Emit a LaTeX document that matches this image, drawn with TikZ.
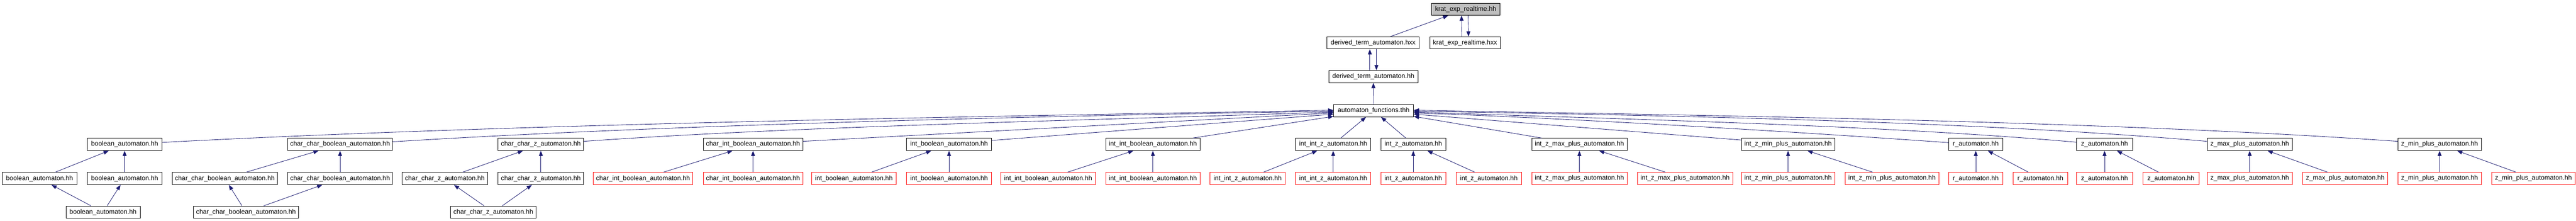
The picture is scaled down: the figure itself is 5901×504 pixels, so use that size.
\documentclass[tikz,border=0pt]{standalone}
\usepackage{fontspec}
\setmainfont{Liberation Sans}
\usepackage{xcolor}
\usepackage{tikz}
\usetikzlibrary{positioning,arrows.meta}
\definecolor{bg}{HTML}{FFFFFF}
\definecolor{ink}{HTML}{000000}
\definecolor{trunc}{HTML}{FF0000}
\definecolor{link}{HTML}{191970}
\definecolor{curfill}{HTML}{BFBFBF}
\tikzset{
  file/.style={draw=ink, line width=1pt, minimum height=28pt, inner sep=0pt,
    text=ink, font=\fontsize{15}{18}\selectfont},
  cut/.style={file, draw=trunc},
  curfile/.style={file, fill=curfill},
  dep/.style={draw=link, line width=1pt, -{Triangle[length=12pt,width=9pt]}}
}

\begin{document}
\begin{tikzpicture}[x=1pt, y=-1pt]
  \path[fill=bg] (0,0) rectangle (5901,504);
  \useasboundingbox (0,0) rectangle (5901,504);

  % top of the graph
  \node[curfile, minimum width=157pt] (krathh) at (3357.5,21) {krat\_exp\_realtime.hh};
  \node[file, minimum width=211pt] (dthxx) at (3145.5,98) {derived\_term\_automaton.hxx};
  \node[file, minimum width=162pt] (krathxx) at (3356,98) {krat\_exp\_realtime.hxx};
  \node[file, minimum width=204pt] (dthh) at (3146,175) {derived\_term\_automaton.hh};
  \node[file, minimum width=183pt] (autfun) at (3146.5,253) {automaton\_functions.thh};
  \draw[dep] (dthxx) -- (krathh);
  \draw[dep] ([xshift=-7.5pt]krathxx.north) -- ([xshift=-9.5pt]krathh.south);
  \draw[dep] ([xshift=5.5pt]krathh.south) -- ([xshift=8pt]krathxx.north);
  \draw[dep] ([xshift=-8pt]dthh.north) -- ([xshift=-7.5pt]dthxx.south);
  \draw[dep] ([xshift=7.5pt]dthxx.south) -- ([xshift=7pt]dthh.north);
  \draw[dep] (autfun) -- (dthh);

  % plain copy below, other copy to the left
  \foreach \id/\fn/\bw/\cx/\col in {
      bo/boolean/171/285.5/ink,
      ccb/char\_char\_boolean/240/779/ink,
      ccz/char\_char\_z/196/1239/ink,
      cib/char\_int\_boolean/228/1725/trunc,
      ib/int\_boolean/194/2174/trunc,
      iib/int\_int\_boolean/216/2641/trunc,
      iiz/int\_int\_z/172/3054/trunc}{
    \node[file, minimum width=\bw pt] (\id) at (\cx,330) {\fn\_automaton.hh};
    \node[file, draw=\col, minimum width=\bw pt, below=49pt of \id] (\id-b) {\fn\_automaton.hh};
    \node[file, draw=\col, minimum width=\bw pt, left=23pt of \id-b] (\id-a) {\fn\_automaton.hh};
    \draw[dep] (\id-a) -- (\id);
    \draw[dep] (\id-b) -- (\id);
  }

  % plain copy below, other copy to the right
  \foreach \id/\fn/\bw/\cx in {
      iz/int\_z/149/3237.5,
      izmx/int\_z\_max\_plus/218/3618,
      izmn/int\_z\_min\_plus/214/4096,
      r/r/124/4526,
      z/z/128/4821,
      zmx/z\_max\_plus/195/5153.5,
      zmn/z\_min\_plus/191/5588.5}{
    \node[file, minimum width=\bw pt] (\id) at (\cx,330) {\fn\_automaton.hh};
    \node[cut, minimum width=\bw pt, below=49pt of \id] (\id-a) {\fn\_automaton.hh};
    \node[cut, minimum width=\bw pt, right=23pt of \id-a] (\id-b) {\fn\_automaton.hh};
    \draw[dep] (\id-a) -- (\id);
    \draw[dep] (\id-b) -- (\id);
  }

  % bottom row
  \node[file, minimum width=170pt] (bo-c) at (236,485) {boolean\_automaton.hh};
  \node[file, minimum width=241pt] (ccb-c) at (563.5,485) {char\_char\_boolean\_automaton.hh};
  \node[file, minimum width=196pt] (ccz-c) at (1130,485) {char\_char\_z\_automaton.hh};
  \foreach \id in {bo,ccb,ccz}{
    \draw[dep] (\id-c) -- (\id-a);
    \draw[dep] (\id-c) -- (\id-b);
  }

  % long edges into automaton_functions.thh
  \foreach \id/\sy/\ax/\ay/\bx/\by/\dy in {bo/4.5/1175/283/2250/266/1,
      ccb/6/1545/284/2408/265/-1, ccz/7/1851/287/2540/274/-3}
    \draw[dep] ([yshift=\sy pt]\id.east) .. controls (\ax,\ay) and (\bx,\by)
      .. ([yshift=\dy pt]autfun.west);
  \foreach \id/\sy/\ax/\ay/\bx/\by/\dy in {r/4/4097/300/3605/271/-5,
      z/5/4302/285/3694/272/-3, zmx/7/4511/276/3783/263.5/-1,
      zmn/7/4817/276/3914/264/1}
    \draw[dep] ([yshift=\sy pt]\id.west) .. controls (\ax,\ay) and (\bx,\by)
      .. ([yshift=\dy pt]autfun.east);
  \draw[dep] ([yshift=7pt]cib.east) -- ([yshift=-5pt]autfun.west);
  \draw[dep] ([yshift=9pt]ib.east) -- ([yshift=-8pt]autfun.west);
  \draw[dep] ([xshift=-17pt]iib.north east) -- ([yshift=-13pt]autfun.west);
  \draw[dep] (iiz) -- (autfun);
  \draw[dep] (iz) -- (autfun);
  \draw[dep] ([xshift=23pt]izmx.north west) -- ([yshift=-13pt]autfun.east);
  \draw[dep] ([yshift=10pt]izmn.west) -- ([yshift=-8pt]autfun.east);
\end{tikzpicture}
\end{document}
